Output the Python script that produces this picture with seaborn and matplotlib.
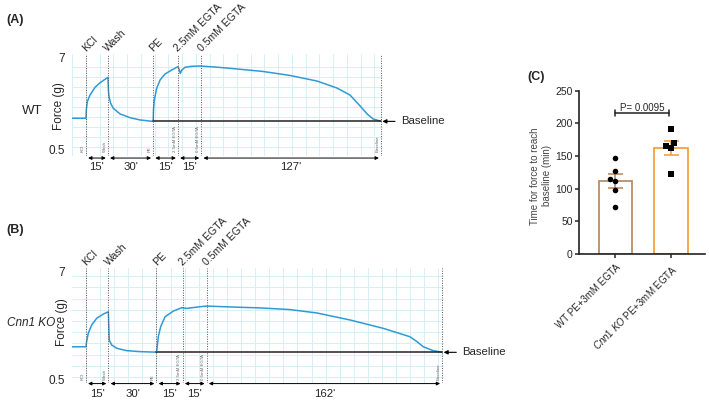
import pandas as pd
import seaborn as sns
import matplotlib.pyplot as plt
from matplotlib.ticker import MultipleLocator

# ---- panel A: WT force trace (min, g)
wt_time = [-9.6, 0.0, 0.2, 0.9, 2.7, 6.2, 9.6, 13.0, 15.0, 15.4, 15.75, 16.9, 18.7, 23.3,
           30.1, 37.0, 45.0, 46.0, 46.2, 46.8, 48.4, 50.7, 54.1, 58.7, 62.8, 63.5, 64.6,
           65.6, 67.8, 72.4, 78.1, 88.4, 98.6, 121.2, 139.7, 158.2, 171.9, 180.8, 187.7,
           192.5, 196.6, 202.0]
wt_force = [2.72, 2.72, 3.30, 3.88, 4.34, 4.88, 5.20, 5.44, 5.58, 4.60, 4.23, 3.76, 3.41, 3.02,
            2.76, 2.60, 2.51, 2.50, 3.30, 4.00, 4.81, 5.39, 5.81, 6.09, 6.32, 6.21, 5.85,
            6.09, 6.28, 6.35, 6.37, 6.30, 6.21, 5.99, 5.71, 5.32, 4.83, 4.34, 3.58,
            3.02, 2.67, 2.51]
wt_events = [0, 15, 46, 63, 79, 202]
wt_baseline = 2.50
wt_steps = ["15'", "30'", "15'", "15'", "127'"]

# ---- panel B: Cnn1 KO force trace (min, g)
ko_time = [-9.3, 0.0, 0.4, 1.5, 3.8, 7.1, 11.5, 14.9, 15.5, 17.1, 20.5, 27.1, 36.0, 47.0,
           47.5, 48.2, 49.8, 52.7, 58.2, 63.8, 67.1, 76.0, 80.5, 98.2, 116.0, 136.0, 153.8,
           176.0, 198.2, 216.0, 220.5, 224.9, 231.5, 237.5]
ko_force = [2.48, 2.48, 2.78, 3.28, 3.78, 4.18, 4.43, 4.57, 2.88, 2.59, 2.39, 2.25, 2.19, 2.16,
            2.48, 3.08, 3.68, 4.27, 4.61, 4.81, 4.77, 4.87, 4.91, 4.85, 4.80, 4.70, 4.50,
            4.08, 3.58, 3.08, 2.80, 2.48, 2.25, 2.15]
ko_events = [0, 15, 47, 64.5, 80.5, 237.5]
ko_baseline = 2.15
ko_steps = ["15'", "30'", "15'", "15'", "162'"]

event_names = ["KCl", "Wash", "PE", "2.5mM EGTA", "0.5mM EGTA"]
mini_names = ["KCl", "Wash", "PE", "2.5mM EGTA", "0.5mM EGTA", "Baseline"]

# ---- panel C: time for force to reach baseline (min)
groups = ["WT PE+3mM EGTA", "Cnn1 KO PE+3mM EGTA"]
wt_times = [147.5, 127, 115, 112, 98, 72]
ko_times = [191, 165, 169.5, 162, 122.5]
p_text = "P= 0.0095"

sns.set_style("white")
plt.rcParams["font.family"] = ["Liberation Sans", "DejaVu Sans"]
plt.rcParams["mathtext.fontset"] = "custom"
plt.rcParams["mathtext.it"] = "Liberation Sans:italic"
plt.rcParams["mathtext.rm"] = "Liberation Sans"

W, H = 709, 401
fig = plt.figure(figsize=(W / 100, H / 100), dpi=100)


def rect(l, t, r, b):
    return [l / W, 1 - b / H, (r - l) / W, (b - t) / H]


def ftext(x, y, s, **kw):
    fig.text(x / W, 1 - y / H, s, ha="center", va="center", **kw)


blue = "#2f9ad6"
grid_c = "#d6eff6"


def trace_panel(box, xlim, ylim, ygrid, time, force, events, base, steps,
                arrow_y, step_y, mini_y, ylab_xy):
    ax = fig.add_axes(rect(*box))
    ax.set_xlim(*xlim)
    ax.set_ylim(*ylim)
    ax.xaxis.set_minor_locator(MultipleLocator(9.4))
    ax.yaxis.set_minor_locator(MultipleLocator(ygrid))
    ax.set_xticks([])
    ax.set_yticks([0.5, 7], labels=["0.5", "7"])
    ax.tick_params(axis="y", length=0, pad=5, labelsize=8.5)
    ax.tick_params(which="minor", length=0)
    ax.grid(True, which="minor", color=grid_c, lw=0.7)
    for s in ax.spines.values():
        s.set_visible(False)
    ax.set_ylabel("Force (g)", fontsize=8.5)
    ax.yaxis.set_label_coords(*ylab_xy)

    sns.lineplot(x=time, y=force, ax=ax, color=blue, lw=1.1, sort=False, estimator=None)
    ax.plot([events[2], events[-1]], [base, base], color="#222222", lw=1.1)
    for ev in events:
        ax.axvline(ev, ls=(0, (1, 1.5)), color="#555555", lw=0.7)

    tr = ax.get_xaxis_transform()
    for ev, name in zip(events, event_names):
        ax.annotate(name, xy=(ev, 1.0), xycoords=tr, xytext=(1.2, 0.5),
                    textcoords="offset points", rotation=45, rotation_mode="anchor",
                    ha="left", va="bottom", fontsize=7.6, annotation_clip=False)
    for ev, name in zip(events, mini_names):
        ax.annotate(name, xy=(ev, mini_y), xycoords=tr, xytext=(-1, 0),
                    textcoords="offset points", rotation=90, ha="right", va="bottom",
                    fontsize=3.2, color="#666666")
    for i, lab in enumerate(steps):
        ax.annotate("", xy=(events[i + 1], arrow_y), xytext=(events[i], arrow_y),
                    xycoords=tr, annotation_clip=False,
                    arrowprops=dict(arrowstyle="<|-|>", color="k", lw=0.7,
                                    shrinkA=1.5, shrinkB=1.5, mutation_scale=5))
        ax.text((events[i] + events[i + 1]) / 2, step_y, lab, transform=tr,
                ha="center", va="center", fontsize=8.2)
    ax.annotate("Baseline", xy=(events[-1], base), xytext=(14.5, 0),
                textcoords="offset points", ha="left", va="center", fontsize=8.2,
                annotation_clip=False,
                arrowprops=dict(arrowstyle="-|>", color="k", lw=0.8,
                                shrinkA=2, shrinkB=1, mutation_scale=6))
    return ax


trace_panel((72, 54, 383, 156), (-9.6, 203.4), (0.08, 7.21), 0.7,
            wt_time, wt_force, wt_events, wt_baseline, wt_steps,
            -0.02, -0.11, 0.04, (-0.022, 0.49))
trace_panel((72, 268, 444, 383), (-9.33, 238.7), (0.32, 7.18), 0.67,
            ko_time, ko_force, ko_events, ko_baseline, ko_steps,
            -0.005, -0.096, 0.026, (-0.011, 0.53))

ftext(15, 20, "(A)", fontsize=9, fontweight="bold")
ftext(15, 230, "(B)", fontsize=9, fontweight="bold")
ftext(536, 77, "(C)", fontsize=9, fontweight="bold")
ftext(32, 111, "WT", fontsize=9.5)
ftext(31, 323, "Cnn1 KO", fontsize=8.5, style="italic")

# ---- panel C
df = pd.DataFrame({"group": [groups[0]] * len(wt_times) + [groups[1]] * len(ko_times),
                   "time": wt_times + ko_times})
bar_colors = ["#b5845a", "#f59a2e"]

axc = fig.add_axes(rect(579, 90.7, 705, 254))
sns.barplot(data=df, x="group", y="time", hue="group", order=groups, hue_order=groups,
            palette=bar_colors, fill=False, width=0.6, linewidth=1.2, errorbar=None,
            legend=False, ax=axc)
stats = df.groupby("group", sort=False)["time"].agg(["mean", "sem"])
for i, g in enumerate(groups):
    axc.errorbar(i, stats.loc[g, "mean"], yerr=stats.loc[g, "sem"], fmt="none",
                 ecolor=bar_colors[i], elinewidth=1.1, capsize=5.4, capthick=1.1)
sns.swarmplot(data=df[df.group == groups[0]], x="group", y="time", order=groups,
              color="k", marker="o", size=4, ax=axc)
sns.swarmplot(data=df[df.group == groups[1]], x="group", y="time", order=groups,
              color="k", marker="s", size=4, ax=axc)

axc.set_xlim(-0.65, 1.61)
axc.set_ylim(0, 250)
axc.set_yticks(range(0, 251, 50))
axc.set_xticks([0, 1], labels=["WT PE+3mM EGTA", r"$\it{Cnn1\ KO}$ PE+3mM EGTA"])
for lab in axc.get_xticklabels():
    lab.set_rotation(45)
    lab.set_ha("right")
    lab.set_rotation_mode("anchor")
axc.tick_params(axis="y", direction="out", length=3, width=1.1, labelsize=7.5, pad=1.5,
                left=True)
axc.tick_params(axis="x", direction="out", length=3, width=1.1, labelsize=7, pad=3,
                bottom=True)
sns.despine(ax=axc)
for s in ("left", "bottom"):
    axc.spines[s].set_linewidth(1.2)
    axc.spines[s].set_color("#222222")
axc.set_xlabel("")
axc.set_ylabel("Time for force to reach\nbaseline (min)", fontsize=7, color="#444444")
axc.yaxis.set_label_coords(-0.214, 0.478)

# significance bracket
axc.plot([0, 0.96], [216, 216], color="#222222", lw=1.1)
for xe in (0, 0.96):
    axc.plot([xe, xe], [211, 221], color="#222222", lw=1.1)
axc.text(0.48, 219, p_text, ha="center", va="baseline", fontsize=7)

fig.savefig("out.png", dpi=100)
